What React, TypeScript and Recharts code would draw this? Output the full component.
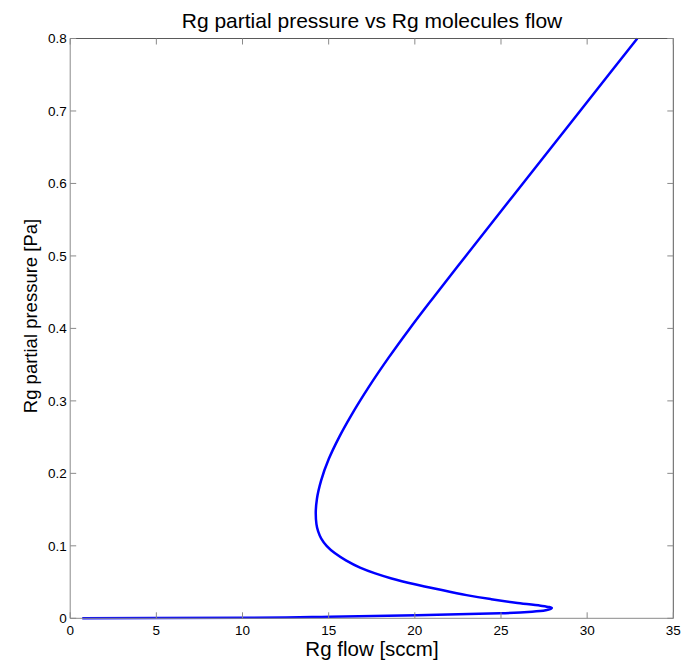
import { LineChart, Line, XAxis, YAxis } from "recharts";

// Rg flow [sccm] along the S-curve, in drawing order (pressure rises monotonically)
const flow = [
  0.7, 5, 10.44, 15.08, 20.11, 24.94, 26.8, 27.6, 27.95, 27.8, 27.3, 25.85,
  24.4, 23.0, 21.35, 20.0, 18.65, 17.7, 16.82, 16.0, 15.35, 14.88, 14.57,
  14.39, 14.29, 14.25, 14.32, 14.56, 15.01, 15.61, 16.31, 17.35, 18.49, 19.71,
  20.99, 22.96, 26.27, 29.59, 32.91,
];
// Rg partial pressure [Pa]
const pressure = [
  0, 0.0003, 0.0008, 0.0022, 0.0041, 0.0069, 0.0092, 0.0112, 0.0142, 0.0155,
  0.0174, 0.0215, 0.0265, 0.032, 0.04, 0.047, 0.055, 0.062, 0.07, 0.08, 0.09,
  0.1, 0.11, 0.12, 0.13, 0.145, 0.165, 0.19, 0.22, 0.25, 0.28, 0.32, 0.36,
  0.4, 0.44, 0.5, 0.6, 0.7, 0.8,
];

const xTicks = [0, 5, 10, 15, 20, 25, 30, 35];
const yTicks = [0, 0.1, 0.2, 0.3, 0.4, 0.5, 0.6, 0.7, 0.8];

const data = flow.map((f, i) => ({ flow: f, pressure: pressure[i] }));

const FONT = "'Liberation Sans', Arial, Helvetica, sans-serif";
const AXIS = "#8a8a8a";
const BOX = "#5a5a5a";

const BottomTick = ({ x, y, payload }: any) => (
  <g>
    <line x1={x} x2={x} y1={y} y2={y - 6} stroke={AXIS} />
    <text x={x} y={y + 17} textAnchor="middle" fontSize={13.5} fontFamily={FONT} fill="#000">
      {payload.value}
    </text>
  </g>
);

const LeftTick = ({ x, y, payload }: any) => (
  <g>
    <line x1={x} x2={x + 6} y1={y} y2={y} stroke={AXIS} />
    <text x={x - 3.5} y={y + 4.8} textAnchor="end" fontSize={13.5} fontFamily={FONT} fill="#000">
      {payload.value}
    </text>
  </g>
);

const TopTick = ({ x, y }: any) => <line x1={x} x2={x} y1={y} y2={y + 6} stroke={AXIS} />;
const RightTick = ({ x, y }: any) => <line x1={x} x2={x - 6} y1={y} y2={y} stroke={AXIS} />;

export default function App() {
  return (
    <div style={{ position: "absolute", left: 0, top: 0, width: 681, height: 662, background: "#fff", fontFamily: FONT }}>
      <LineChart
        width={681}
        height={662}
        data={data}
        margin={{ top: 37.5, right: 6.7, bottom: 0, left: 0 }}
      >
        <XAxis
          xAxisId="b"
          dataKey="flow"
          type="number"
          domain={[0, 35]}
          ticks={xTicks}
          height={43.7}
          tickSize={0}
          tickMargin={0}
          tick={<BottomTick />}
          axisLine={{ stroke: AXIS }}
          tickLine={false}
          interval={0}
        />
        <XAxis
          xAxisId="t"
          orientation="top"
          dataKey="flow"
          type="number"
          domain={[0, 35]}
          ticks={xTicks}
          height={1}
          tickSize={0}
          tickMargin={0}
          tick={<TopTick />}
          axisLine={{ stroke: BOX }}
          tickLine={false}
          interval={0}
        />
        <YAxis
          yAxisId="l"
          type="number"
          domain={[0, 0.8]}
          ticks={yTicks}
          width={70.2}
          tickSize={0}
          tickMargin={0}
          tick={<LeftTick />}
          axisLine={{ stroke: AXIS }}
          tickLine={false}
          interval={0}
        />
        <YAxis
          yAxisId="r"
          orientation="right"
          type="number"
          domain={[0, 0.8]}
          ticks={yTicks}
          width={1}
          tickSize={0}
          tickMargin={0}
          tick={<RightTick />}
          axisLine={{ stroke: BOX }}
          tickLine={false}
          interval={0}
        />
        {/* invisible series so the mirrored box axes get drawn */}
        <Line
          xAxisId="t"
          yAxisId="r"
          dataKey="pressure"
          stroke="none"
          dot={false}
          activeDot={false}
          isAnimationActive={false}
        />
        <Line
          xAxisId="b"
          yAxisId="l"
          dataKey="pressure"
          type="monotoneY"
          stroke="#0000ff"
          strokeWidth={2.5}
          dot={false}
          isAnimationActive={false}
        />
      </LineChart>
      <div style={{ position: "absolute", left: 0, width: 744, top: 7, fontSize: 21, textAlign: "center", lineHeight: "28px", color: "#000", whiteSpace: "nowrap" }}>
        Rg partial pressure vs Rg molecules flow
      </div>
      <div style={{ position: "absolute", left: 0, width: 744, top: 636, fontSize: 20.5, textAlign: "center", lineHeight: "26px", color: "#000", whiteSpace: "nowrap" }}>
        Rg flow [sccm]
      </div>
      <div
        style={{
          position: "absolute",
          left: 31,
          top: 316,
          fontSize: 18.5,
          lineHeight: "22px",
          color: "#000",
          whiteSpace: "nowrap",
          transform: "translate(-50%, -50%) rotate(-90deg)",
        }}
      >
        Rg partial pressure [Pa]
      </div>
    </div>
  );
}
